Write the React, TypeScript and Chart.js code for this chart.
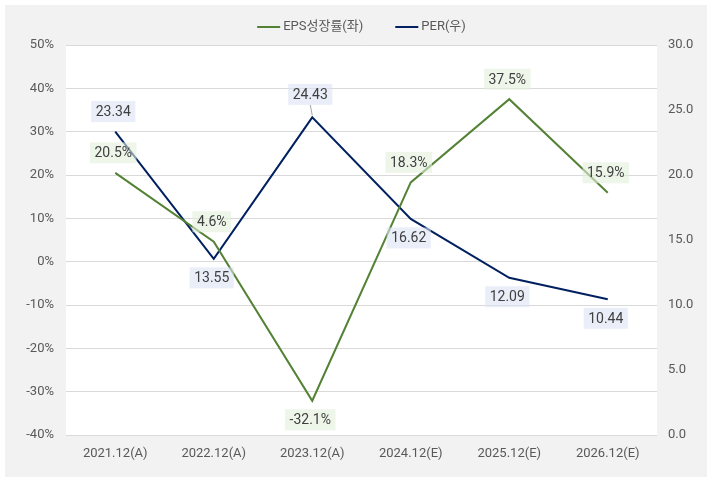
import React, { useEffect, useRef } from "react";
import { Chart, registerables } from "chart.js";

Chart.register(...registerables);

const categories = ["2021.12(A)", "2022.12(A)", "2023.12(A)", "2024.12(E)", "2025.12(E)", "2026.12(E)"];
const epsGrowth = [20.5, 4.6, -32.1, 18.3, 37.5, 15.9];
const per = [23.34, 13.55, 24.43, 16.62, 12.09, 10.44];
const epsLabelPlacement = ["top", "top", "bottom", "top", "top", "top"];
const perLabelPlacement = ["top", "bottom", "topFar", "bottom", "bottom", "bottom"];

const FONT = "Roboto, 'Noto Sans CJK KR', sans-serif";

const bgPlugin = {
  id: "bgPlugin",
  beforeDraw(chart: any) {
    const { ctx, width, height, chartArea } = chart;
    ctx.save();
    ctx.fillStyle = "#ffffff";
    ctx.fillRect(0, 0, width, height);
    ctx.fillStyle = "#f2f2f2";
    ctx.fillRect(5, 5, width - 10, height - 10);
    ctx.fillStyle = "#ffffff";
    ctx.fillRect(chartArea.left, chartArea.top, chartArea.right - chartArea.left, chartArea.bottom - chartArea.top);
    ctx.restore();
  },
};

const legendPlugin = {
  id: "legendPlugin",
  afterDraw(chart: any) {
    const { ctx, chartArea } = chart;
    const lineW = 23;
    const gap = 3;
    const sep = 32;
    ctx.save();
    ctx.font = `13px ${FONT}`;
    const items = chart.data.datasets.map((ds: any) => ({
      text: ds.label,
      color: ds.borderColor,
      w: lineW + gap + ctx.measureText(ds.label).width,
    }));
    const total = items.reduce((a: number, it: any) => a + it.w, 0) + sep * (items.length - 1);
    let x = (chartArea.left + chartArea.right) / 2 - total / 2;
    const y = 27;
    items.forEach((it: any) => {
      ctx.strokeStyle = it.color;
      ctx.lineWidth = 2;
      ctx.beginPath();
      ctx.moveTo(x, y);
      ctx.lineTo(x + lineW, y);
      ctx.stroke();
      ctx.fillStyle = "#595959";
      ctx.textAlign = "left";
      ctx.textBaseline = "middle";
      ctx.fillText(it.text, x + lineW + gap, y);
      x += it.w + sep;
    });
    ctx.restore();
  },
};

const labelPlugin = {
  id: "labelPlugin",
  afterDatasetsDraw(chart: any) {
    const { ctx } = chart;
    chart.data.datasets.forEach((ds: any, di: number) => {
      const meta = chart.getDatasetMeta(di);
      meta.data.forEach((pt: any, i: number) => {
        const v = ds.data[i];
        const text = ds.labelFormat(v);
        const place = ds.labelPlacement[i];
        ctx.save();
        ctx.font = `14px ${FONT}`;
        const tw = ctx.measureText(text).width;
        const w = tw + 9;
        const h = 21;
        let cy = pt.y;
        if (place === "top") cy = pt.y - 20;
        else if (place === "topFar") cy = pt.y - 23;
        else cy = pt.y + 19;
        const cx = pt.x - 2;
        if (place === "topFar") {
          ctx.strokeStyle = "#a6a6a6";
          ctx.lineWidth = 1;
          ctx.beginPath();
          ctx.moveTo(cx, cy + h / 2);
          ctx.lineTo(pt.x, pt.y - 2);
          ctx.stroke();
        }
        ctx.fillStyle = ds.labelBg;
        ctx.fillRect(cx - w / 2, cy - h / 2, w, h);
        ctx.fillStyle = "#404040";
        ctx.textAlign = "center";
        ctx.textBaseline = "middle";
        ctx.fillText(text, cx, cy + 1);
        ctx.restore();
      });
    });
  },
};

export default function App() {
  const ref = useRef<HTMLCanvasElement | null>(null);
  useEffect(() => {
    if (!ref.current) return;
    const chart = new Chart(ref.current, {
      type: "line",
      data: {
        labels: categories,
        datasets: [
          {
            label: "EPS성장률(좌)",
            data: epsGrowth,
            borderColor: "#548235",
            backgroundColor: "#548235",
            borderWidth: 2,
            pointRadius: 0,
            yAxisID: "y",
            labelFormat: (v: number) => v.toFixed(1) + "%",
            labelPlacement: epsLabelPlacement,
            labelBg: "rgba(226, 239, 218, 0.6)",
          } as any,
          {
            label: "PER(우)",
            data: per,
            borderColor: "#002060",
            backgroundColor: "#002060",
            borderWidth: 2,
            pointRadius: 0,
            yAxisID: "y1",
            labelFormat: (v: number) => v.toFixed(2),
            labelPlacement: perLabelPlacement,
            labelBg: "rgba(218, 227, 243, 0.6)",
          } as any,
        ],
      },
      options: {
        responsive: false,
        animation: false,
        layout: { padding: { top: 45, left: 0, right: 0, bottom: 17 } },
        plugins: {
          legend: { display: false },
          tooltip: { enabled: false },
        },
        scales: {
          x: {
            offset: true,
            grid: { display: false, drawTicks: false },
            border: { display: false },
            ticks: { color: "#595959", font: { size: 13, family: FONT }, padding: 11 },
            afterFit: (s: any) => { s.height = 30; },
          },
          y: {
            position: "left",
            min: -40,
            max: 50,
            ticks: {
              stepSize: 10,
              color: "#595959",
              font: { size: 13, family: FONT },
              padding: 12,
              callback: (v: any) => v + "%",
            },
            grid: { color: "#d9d9d9", drawTicks: false },
            border: { display: false },
            afterFit: (s: any) => { s.width = 66; },
          },
          y1: {
            position: "right",
            min: 0,
            max: 30,
            ticks: {
              stepSize: 5,
              color: "#595959",
              font: { size: 13, family: FONT },
              padding: 11,
              callback: (v: any) => Number(v).toFixed(1),
            },
            grid: { display: false, drawTicks: false },
            border: { display: false },
            afterFit: (s: any) => { s.width = 55; },
          },
        },
      },
      plugins: [bgPlugin, legendPlugin, labelPlugin],
    });
    return () => chart.destroy();
  }, []);
  return (
    <div style={{ position: "absolute", left: 0, top: 0, width: 712, height: 482 }}>
      <canvas ref={ref} width={712} height={482} />
    </div>
  );
}
